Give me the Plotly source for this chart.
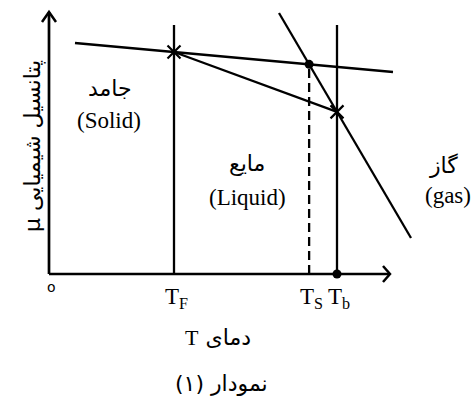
import numpy as np
import plotly.graph_objects as go

# Schematic chemical potential (mu) vs temperature (T), arbitrary units
solid_T = [26, 344]
solid_mu = [231, 202]
gas_T = [230, 362]
gas_mu = [261, 36]

T_F = 125          # melting temperature
T_b = 288          # boiling temperature
v_top = 249        # height of the vertical guide lines
axis_T_max = 341   # end of the temperature axis
axis_mu_max = 262  # end of the potential axis

tick_labels = ["T<sub>F</sub>", "T<sub>S</sub>", "T<sub>b</sub>"]


def line_at(Ts, mus, t):
    return mus[0] + (mus[1] - mus[0]) / (Ts[1] - Ts[0]) * (t - Ts[0])


# liquid line joins the solid curve at T_F and the gas curve at T_b
liq_T = [T_F, T_b]
liq_mu = [line_at(solid_T, solid_mu, T_F), line_at(gas_T, gas_mu, T_b)]

# sublimation point: solid and gas lines cross
s1 = (solid_mu[1] - solid_mu[0]) / (solid_T[1] - solid_T[0])
s2 = (gas_mu[1] - gas_mu[0]) / (gas_T[1] - gas_T[0])
T_S = (gas_mu[0] - s2 * gas_T[0] - solid_mu[0] + s1 * solid_T[0]) / (s1 - s2)
mu_S = line_at(solid_T, solid_mu, T_S)

BLACK = "#000000"
LW = 2.3
fig = go.Figure()


def seg(xs, ys, width=LW, dash="solid"):
    fig.add_trace(go.Scatter(x=xs, y=ys, mode="lines",
                             line=dict(color=BLACK, width=width, dash=dash),
                             hoverinfo="skip", showlegend=False))


# axes with open arrowheads
seg([0, axis_T_max], [0, 0], width=2.7)
seg([0, 0], [0, axis_mu_max], width=2.7)
seg([axis_T_max - 7, axis_T_max, axis_T_max - 7], [8, 0, -8], width=2.5)
seg([-7, 0, 7], [axis_mu_max - 10, axis_mu_max, axis_mu_max - 10], width=2.5)

# potential lines
seg(solid_T, solid_mu)
seg(gas_T, gas_mu)
seg(liq_T, liq_mu)

# guide lines
seg([T_F, T_F], [0, v_top])
seg([T_b, T_b], [0, v_top])
seg([T_S, T_S], [0, mu_S], dash="9px,5px")

# transition crossings and points
fig.add_trace(go.Scatter(x=liq_T, y=liq_mu, mode="markers",
                         marker=dict(symbol="x-thin", size=13,
                                     line=dict(color=BLACK, width=2.2)),
                         hoverinfo="skip", showlegend=False))
fig.add_trace(go.Scatter(x=[T_S, T_b], y=[mu_S, 0], mode="markers",
                         marker=dict(symbol="circle", size=9, color=BLACK),
                         hoverinfo="skip", showlegend=False))

serif = "Liberation Serif, Times New Roman, serif"
persian = "DejaVu Sans, Noto Sans, sans-serif"
ann = []


def label(x, y, text, size, family, angle=0):
    ann.append(dict(x=x, y=y, xref="x", yref="y", text=text, showarrow=False,
                    textangle=angle, font=dict(family=family, size=size, color=BLACK)))


for t, lab in zip([T_F, T_S, T_b], tick_labels):
    label(t + 2, -24, lab, 23, serif)
label(2, -13, "o", 14, "DejaVu Sans, sans-serif")

label(61, 186, "جامد", 22, persian)
label(60, 154, "(Solid)", 23, serif)
label(198, 111, "مایع", 22, persian)
label(198, 77, "(Liquid)", 23, serif)
label(394, 109, "گاز", 22, persian)
label(399, 79, "(gas)", 23, serif)

label(169, -63, "<span style='font-family:Liberation Serif'>T</span> دمای", 22, persian)
label(172, -109, "(۱) نمودار", 22, persian)
label(-16, 128, "μ پتانسیل شیمیایی", 22, persian, angle=-90)

fig.update_layout(
    width=473, height=396,
    margin=dict(l=0, r=0, t=0, b=0),
    paper_bgcolor="white", plot_bgcolor="white",
    xaxis=dict(range=[-49, 424], visible=False, fixedrange=True),
    yaxis=dict(range=[-122, 274], visible=False, fixedrange=True),
    annotations=ann,
)

fig.write_html("out.html")
